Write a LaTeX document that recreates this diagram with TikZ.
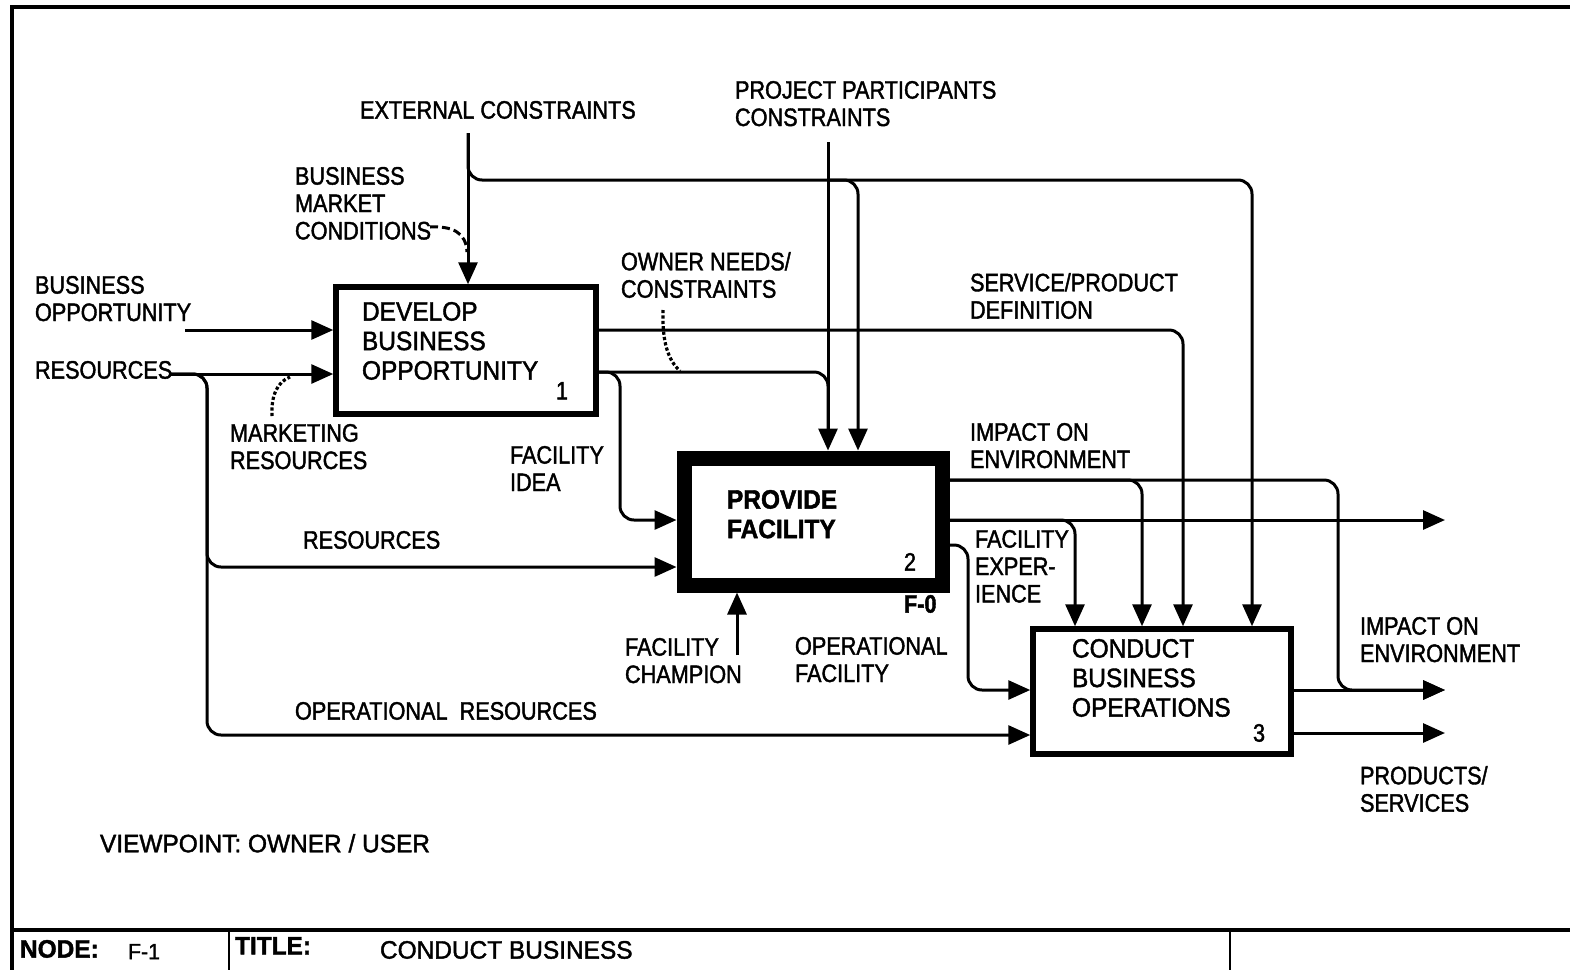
\documentclass[tikz,border=0pt]{standalone}
\usepackage{fontspec}
\setmainfont{Liberation Sans}
\newfontfamily\lblfont{Liberation Sans}[FakeStretch=0.86,FakeBold=1.6]
\newfontfamily\boxfont{Liberation Sans}[FakeStretch=0.92,FakeBold=1.6]
\newfontfamily\ttlfont{Liberation Sans}[FakeStretch=0.97,FakeBold=1.6]
\usetikzlibrary{arrows.meta}
\begin{document}
\begin{tikzpicture}[x=0.5pt,y=-0.5pt,
  lbl/.style={anchor=north west,inner sep=0pt,outer sep=0pt,align=left,
    font=\lblfont\fontsize{12.6}{13.7}\selectfont},
  boxtext/.style={anchor=north west,inner sep=0pt,outer sep=0pt,align=left,
    font=\boxfont\fontsize{13.3}{14.75}\selectfont},
  ttl/.style={anchor=north west,inner sep=0pt,outer sep=0pt,
    font=\ttlfont\fontsize{12.6}{13.7}\selectfont},
  activity/.style={draw,rectangle,inner sep=0pt,line width=2.75pt},
  mainact/.style={draw,rectangle,inner sep=0pt,line width=7.5pt},
  flow/.style={line width=1.5pt,rounded corners=7pt},
  arr/.style={flow,-{Triangle[length=11pt,width=9.5pt]}},
  frame/.style={line width=1.8pt},
  dotline/.style={line width=1.6pt,dash pattern=on 1.6pt off 1.1pt},
  dashline/.style={line width=1.5pt,dash pattern=on 4pt off 2pt}]

% page area
\useasboundingbox (0,0) rectangle (1570,970);
\fill[white] (0,0) rectangle (1570,970);

% sheet frame and title bar
\draw[frame] (10,7) -- (1570,7);
\draw[frame] (12,6) -- (12,970);
\draw[frame] (12,930) -- (1570,930);
\draw[line width=1.4pt] (229,930) -- (229,970);
\draw[line width=1.4pt] (1230,930) -- (1230,970);
\node[ttl,font=\ttlfont\bfseries\fontsize{12.6}{13.7}\selectfont] (nodelbl) at (20,940) {NODE:};
\node[ttl,font=\ttlfont\fontsize{11}{12}\selectfont] (nodeno) at (128,944) {F-1};
\node[ttl,font=\ttlfont\bfseries\fontsize{12.6}{13.7}\selectfont] (titlelbl) at (235,937) {TITLE:};
\node[ttl] (titletxt) at (380,941) {CONDUCT BUSINESS};

% activity boxes
\node[activity,minimum width=130pt,minimum height=63.5pt] (b1) at (466,350.5) {};
\node[mainact,minimum width=129pt,minimum height=63.5pt] (b2) at (813,521.5) {};
\node[activity,minimum width=129pt,minimum height=62.5pt] (b3) at (1162,691.5) {};

\node[boxtext] (t1) at (362,302) {DEVELOP\\BUSINESS\\OPPORTUNITY};
\node[boxtext,font=\boxfont\bfseries\fontsize{13.3}{14.75}\selectfont] (t2) at (727,490) {PROVIDE\\FACILITY};
\node[boxtext] (t3) at (1072,639) {CONDUCT\\BUSINESS\\OPERATIONS};
\node[lbl] (n1) at (556,382) {1};
\node[lbl] (n2) at (904,553) {2};
\node[lbl] (n3) at (1253,724) {3};
\node[lbl,font=\lblfont\bfseries\fontsize{12.6}{13.7}\selectfont] (f0) at (904,595) {F-0};

% free ends of the flows
\coordinate (ext) at (468,133);
\coordinate (extc) at (1252,180);
\coordinate (extb) at (858,180);
\coordinate (ppc) at (828,142);
\coordinate (bo) at (185,330);
\coordinate (res) at (170,374);
\coordinate (resm) at (207,567);
\coordinate (reso) at (207,735);
\coordinate (spd) at (1183,330);
\coordinate (own) at (828,372);
\coordinate (fi) at (620,520);
\coordinate (fc) at (737,655);
\coordinate (ioe) at (1338,480);
\coordinate (ioeb) at (1142,480);
\coordinate (fe) at (1445,520);
\coordinate (feb) at (1075,520);
\coordinate (of) at (968,545);
\coordinate (ofb) at (968,690);
\coordinate (out1) at (1445,690);
\coordinate (out2) at (1445,733);

% controls from above
\draw[arr] (ext) -- (ext |- b1.north);
\draw[arr] (ext) |- (extc) -- (extc |- b3.north);
\draw[arr] (ppc |- extb) -| (extb |- b2.north);
\draw[arr] (ppc) -- (ppc |- b2.north);

% inputs
\draw[arr] (bo) -- (bo -| b1.west);
\draw[arr] (res) -- (res -| b1.west);
\draw[arr] (res) -| (resm) -- (resm -| b2.west);
\draw[arr] (res) -| (reso) -- (reso -| b3.west);

% outputs of box 1
\draw[arr] (b1.east |- bo) -| (spd |- b3.north);
\draw[flow] (b1.east |- own) -| ([yshift=-30pt]own);
\draw[arr] (b1.east |- own) -| (fi) -- (fi -| b2.west);

% mechanism
\draw[arr] (fc) -- (fc |- b2.south);

% outputs of box 2
\draw[arr] (b2.east |- ioe) -| (ioe |- out1) -- (out1);
\draw[arr] (b2.east |- ioe) -| (ioeb |- b3.north);
\draw[arr] (b2.east |- fe) -- (fe);
\draw[arr] (b2.east |- fe) -| (feb |- b3.north);
\draw[arr] (b2.east |- of) -| (ofb) -- (ofb -| b3.west);

% outputs of box 3
\draw[arr] (b3.east |- out1) -- (out1);
\draw[arr] (b3.east |- out2) -- (out2);

% label leaders
\coordinate (mc1) at (430,227);
\coordinate (mc2) at (467,252);
\draw[dashline] (mc1) .. controls (452,226) and (466,232) .. (mc2);
\coordinate (on1) at (663,310);
\coordinate (on2) at (680,371);
\draw[dotline] (on1) .. controls (662,342) and (668,360) .. (on2);
\coordinate (mr1) at (272,416);
\coordinate (mr2) at (290,377);
\draw[dotline] (mr1) .. controls (271,396) and (277,382) .. (mr2);

% flow labels
\node[lbl] (l1) at (360,101) {EXTERNAL CONSTRAINTS};
\node[lbl] (l2) at (735,81) {PROJECT PARTICIPANTS\\CONSTRAINTS};
\node[lbl] (l3) at (295,167) {BUSINESS\\MARKET\\CONDITIONS};
\node[lbl] (l4) at (35,276) {BUSINESS\\OPPORTUNITY};
\node[lbl] (l5) at (35,361) {RESOURCES};
\node[lbl] (l6) at (621,252) {OWNER NEEDS/\\CONSTRAINTS};
\node[lbl] (l7) at (970,273) {SERVICE/PRODUCT\\DEFINITION};
\node[lbl] (l8) at (230,424) {MARKETING\\RESOURCES};
\node[lbl] (l9) at (510,446) {FACILITY\\IDEA};
\node[lbl] (l10) at (970,423) {IMPACT ON\\ENVIRONMENT};
\node[lbl] (l11) at (303,531) {RESOURCES};
\node[lbl] (l12) at (975,530) {FACILITY\\EXPER-\\IENCE};
\node[lbl] (l13) at (625,638) {FACILITY\\CHAMPION};
\node[lbl] (l14) at (795,637) {OPERATIONAL\\FACILITY};
\node[lbl] (l15) at (1360,617) {IMPACT ON\\ENVIRONMENT};
\node[lbl] (l16) at (295,702) {OPERATIONAL\ \ RESOURCES};
\node[lbl] (l17) at (1360,766) {PRODUCTS/\\SERVICES};
\node[ttl] (l18) at (100,834) {VIEWPOINT: OWNER / USER};

\end{tikzpicture}
\end{document}
